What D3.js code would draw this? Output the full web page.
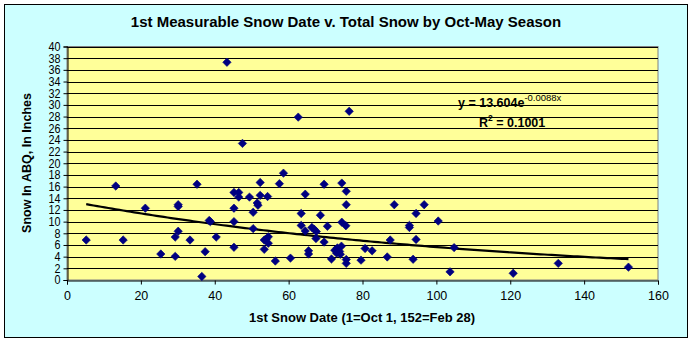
<!DOCTYPE html>
<html><head><meta charset="utf-8">
<script src="https://cdn.jsdelivr.net/npm/d3@7"></script>
<style>
html,body{margin:0;padding:0;background:#fff;}
svg{display:block;font-family:"Liberation Sans",Arial,sans-serif;}
</style></head>
<body>
<svg id="c" width="692" height="343"></svg>
<script>
// First snow date (days after Sep 30) and total season snow (inches)
const snowDate = [5.2,13.2,15.2,21.2,25.4,29.3,29.3,30.1,30.1,30.1,33.3,35.2,36.5,37.4,38.5,38.8,40.4,43.3,
  45.2,45.2,45.2,45.2,46.5,46.5,47.5,49.4,50.4,50.4,51.5,51.7,52.3,52.3,53.4,53.4,53.9,54.5,54.5,54.3,
  56.4,57.5,58.6,60.5,62.6,63.4,63.4,64.5,64.5,65.4,65.4,66.3,66.9,67.5,67.4,68.6,69.6,69.6,70.5,71.6,
  72.5,73.0,73.2,73.8,74.3,74.0,74.4,74.4,75.5,75.6,75.6,75.6,75.6,76.4,79.6,80.7,82.6,86.7,87.5,88.6,
  92.7,92.7,93.7,94.5,94.5,96.7,100.5,103.7,104.8,120.8,133,152];
const snowTotal = [6.85,16.1,6.85,12.3,4.45,4.05,7.35,8.35,12.9,12.6,6.85,16.4,0.6,4.85,10.2,10.0,7.35,37.3,
  15.0,12.3,10.0,5.6,15.0,14.2,23.4,14.2,11.6,8.8,13.2,12.8,16.7,14.5,6.85,5.25,7.0,7.4,6.3,14.3,
  3.25,16.5,18.3,3.75,27.9,11.4,9.35,14.7,8.4,5.0,4.45,9.0,8.7,8.3,7.1,11.1,16.4,6.5,9.2,3.6,
  5.1,4.6,5.5,4.9,5.8,4.4,16.6,9.9,9.3,15.2,12.9,3.5,2.85,28.9,3.4,5.4,5.0,3.95,6.85,12.9,
  9.35,9.0,3.55,11.4,6.95,12.9,10.1,1.4,5.55,1.15,2.85,2.2];
const xTicks = [0,20,40,60,80,100,120,140,160];
const yTicks = d3.range(0, 41, 2);
const trendA = 13.604, trendB = -0.0088;
const titleText = "1st Measurable Snow Date v. Total Snow by Oct-May Season";
const xLabel = "1st Snow Date (1=Oct 1, 152=Feb 28)";
const yLabel = "Snow In ABQ, In Inches";

const svg = d3.select("#c");
svg.append("rect").attr("x",4.5).attr("y",4.5).attr("width",683).attr("height",333)
  .attr("fill","#CCFFFF").attr("stroke","#000").attr("stroke-width",1);

const L=67, R=658, T=46.5, B=280;
const x = d3.scaleLinear().domain([0,160]).range([L,R]);
const y = d3.scaleLinear().domain([0,40]).range([B,T]);

svg.append("rect").attr("x",L).attr("y",T).attr("width",R-L).attr("height",B-T)
  .attr("fill","#FFFF99").attr("stroke","#808080").attr("stroke-width",1);

svg.append("g").selectAll("line").data(yTicks.filter(d=>d>0)).join("line")
  .attr("x1",L).attr("x2",R).attr("y1",d=>Math.round(y(d))+0.5).attr("y2",d=>Math.round(y(d))+0.5)
  .attr("stroke","#000").attr("stroke-width",1);

const yAxis = d3.axisLeft(y).tickValues(yTicks).tickSize(4).tickPadding(3).tickFormat(d3.format("d"));
const gy = svg.append("g").attr("transform",`translate(${L+0.5},0)`).call(yAxis);
const xAxis = d3.axisBottom(x).tickValues(xTicks).tickSize(4).tickPadding(7).tickFormat(d3.format("d"));
const gx = svg.append("g").attr("transform",`translate(0,${B+0.5})`).call(xAxis);
[gx,gy].forEach(g=>{
  g.select(".domain").attr("stroke","#000");
  g.selectAll(".tick line").attr("stroke","#000");
  g.selectAll(".tick text").attr("fill","#000").style("font-size","12.5px")
   .style("font-family","'Liberation Sans',Arial,sans-serif");
});
gy.selectAll(".tick text").style("font-size","12px").attr("transform","scale(0.9,1)")
  .each(function(){ d3.select(this).attr("x", -7/0.9); });

const ext = d3.extent(snowDate);
const tr = d3.range(ext[0], ext[1]+0.01, 1).concat([ext[1]]).map(v=>[v, trendA*Math.exp(trendB*v)]);
svg.append("path").datum(tr)
  .attr("d", d3.line().x(d=>x(d[0])).y(d=>y(d[1])))
  .attr("fill","none").attr("stroke","#000").attr("stroke-width",2.2);

const diamond = "M0,-4.2L4.2,0L0,4.2L-4.2,0Z";
svg.append("g").selectAll("path").data(snowDate.map((d,i)=>[d,snowTotal[i]])).join("path")
  .attr("d",diamond).attr("transform",d=>`translate(${x(d[0])},${y(d[1])})`)
  .attr("fill","#000080").attr("stroke","#000080").attr("stroke-width",0.6);

svg.append("text").attr("x",346).attr("y",27).attr("text-anchor","middle")
  .style("font-weight","bold").style("font-size","15px").text(titleText);
svg.append("text").attr("x",362).attr("y",322).attr("text-anchor","middle")
  .style("font-weight","bold").style("font-size","13px").text(xLabel);
svg.append("text").attr("transform","translate(31,163) rotate(-90)").attr("text-anchor","middle")
  .style("font-weight","bold").style("font-size","12.5px").text(yLabel);

const eq = svg.append("text").attr("x",458).attr("y",107).style("font-weight","bold").style("font-size","12.5px");
eq.append("tspan").text("y = 13.604e");
eq.append("tspan").attr("dy",-6).style("font-size","9.5px").style("font-weight","normal").text("-0.0088x");
const r2 = svg.append("text").attr("x",479).attr("y",127).style("font-weight","bold").style("font-size","12.5px");
r2.append("tspan").text("R");
r2.append("tspan").attr("dy",-6).style("font-size","8.5px").text("2");
r2.append("tspan").attr("dy",6).text(" = 0.1001");
</script>
</body></html>
